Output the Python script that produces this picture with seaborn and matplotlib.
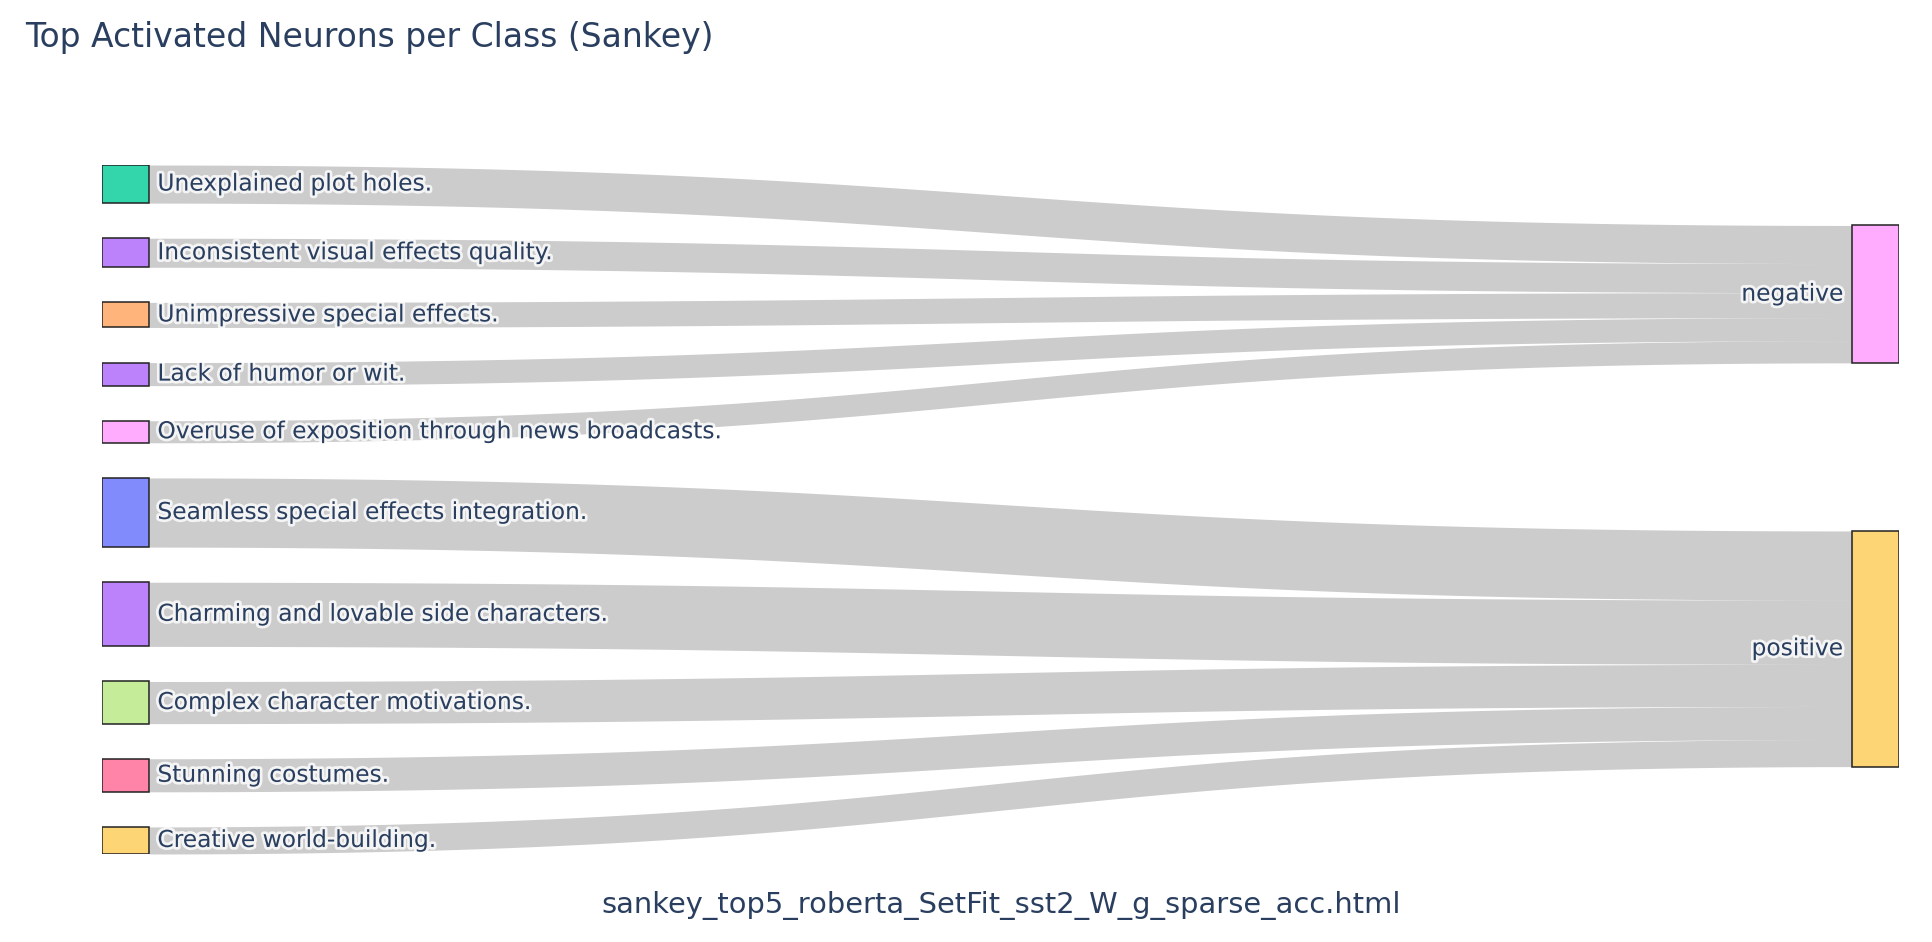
import numpy as np
import matplotlib
matplotlib.use("Agg")
import matplotlib.pyplot as plt
import matplotlib.patheffects as pe
from matplotlib.patches import Rectangle
import seaborn as sns

# data
source_labels = ["Unexplained plot holes.",
                 "Inconsistent visual effects quality.",
                 "Unimpressive special effects.",
                 "Lack of humor or wit.",
                 "Overuse of exposition through news broadcasts.",
                 "Seamless special effects integration.",
                 "Charming and lovable side characters.",
                 "Complex character motivations.",
                 "Stunning costumes.",
                 "Creative world-building."]
source_class = ["negative", "negative", "negative", "negative", "negative",
                "positive", "positive", "positive", "positive", "positive"]
activation = [3.8, 2.9, 2.5, 2.3, 2.2, 6.9, 6.4, 4.2, 3.3, 2.7]
class_labels = ["negative", "positive"]

source_colors = ["#00CC96", "#AB63FA", "#FFA15A", "#AB63FA", "#FF97FF",
                 "#636EFA", "#AB63FA", "#B6E880", "#FF6692", "#FECB52"]
class_colors = ["#FF97FF", "#FECB52"]

sns.set_theme(style="white")
plt.rcParams['font.family'] = ['DejaVu Sans']
TXT = "#2a3f5f"

W, H = 1933, 942
fig = plt.figure(figsize=(W / 100, H / 100), dpi=100)
fig.patch.set_facecolor("white")

# plot area (pixels of the plotly layout)
ax = fig.add_axes([102 / W, 1 - 854 / H, (1899 - 102) / W, (854 - 165) / H])
ax.axis("off")

pad = 3.5
nw = 0.0262
vals = np.array(activation)
total = vals.sum() + pad * (len(vals) - 1)
ax.set_xlim(0, 1)
ax.set_ylim(total, 0)

# left column: stacked with padding
src_top = np.concatenate([[0], np.cumsum(vals + pad)[:-1]])
src_ctr = src_top + vals / 2

# right column: height = incoming sum, centre = weighted mean of sources
cls_top = {}
for c in class_labels:
    m = np.array([s == c for s in source_class])
    h = vals[m].sum()
    ctr = (src_ctr[m] * vals[m]).sum() / h
    cls_top[c] = ctr - h / 2

def band(x0, x1, a0, a1, b0, b1):
    t = np.linspace(0, 1, 200)
    xm0 = x0 + 0.5 * (x1 - x0)
    xm1 = x1 - 0.5 * (x1 - x0)
    bx = (1 - t) ** 3 * x0 + 3 * (1 - t) ** 2 * t * xm0 + 3 * (1 - t) * t ** 2 * xm1 + t ** 3 * x1
    def by(p0, p1):
        return (1 - t) ** 3 * p0 + 3 * (1 - t) ** 2 * t * p0 + 3 * (1 - t) * t ** 2 * p1 + t ** 3 * p1
    ax.fill_between(bx, by(a0, b0), by(a1, b1), color="black", alpha=0.2, lw=0, zorder=1)

# links
offset = {c: cls_top[c] for c in class_labels}
for i, v in enumerate(vals):
    c = source_class[i]
    band(nw, 1 - nw, src_top[i], src_top[i] + v, offset[c], offset[c] + v)
    offset[c] += v

halo = [pe.withStroke(linewidth=4, foreground="white", alpha=0.8)]

# nodes
for i, v in enumerate(vals):
    ax.add_patch(Rectangle((0, src_top[i]), nw, v, facecolor=source_colors[i],
                           alpha=0.8, edgecolor="none", zorder=2))
    ax.add_patch(Rectangle((0, src_top[i]), nw, v, facecolor="none",
                           edgecolor="#222222", lw=1.1, zorder=3))
    ax.annotate(source_labels[i], xy=(nw, src_ctr[i]), xytext=(6, 0),
                textcoords="offset points", ha="left", va="center",
                fontsize=16.8, color=TXT, path_effects=halo, zorder=4)

for j, c in enumerate(class_labels):
    h = vals[[s == c for s in source_class]].sum()
    ax.add_patch(Rectangle((1 - nw, cls_top[c]), nw, h, facecolor=class_colors[j],
                           alpha=0.8, edgecolor="none", zorder=2))
    ax.add_patch(Rectangle((1 - nw, cls_top[c]), nw, h, facecolor="none",
                           edgecolor="#222222", lw=1.1, zorder=3))
    ax.annotate(c, xy=(1 - nw, cls_top[c] + h / 2), xytext=(-6, 0),
                textcoords="offset points", ha="right", va="center",
                fontsize=16.8, color=TXT, path_effects=halo, zorder=4)

fig.text(25 / W, 1 - 38 / H, "Top Activated Neurons per Class (Sankey)",
         ha="left", va="center", fontsize=23.8, color=TXT)
fig.text(1001 / W, 1 - 905 / H, "sankey_top5_roberta_SetFit_sst2_W_g_sparse_acc.html",
         ha="center", va="center", fontsize=20.8, color=TXT)

fig.savefig("out.png", dpi=100, facecolor="white")
